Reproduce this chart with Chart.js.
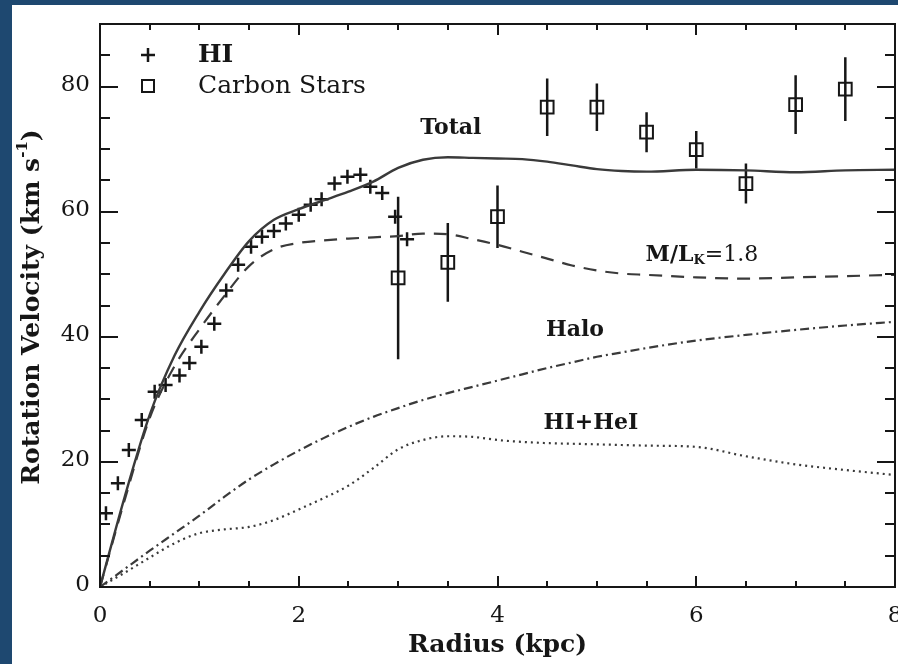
<!DOCTYPE html>
<html>
<head>
<meta charset="utf-8">
<title>Rotation curve</title>
<script src="https://cdn.jsdelivr.net/npm/chart.js@4.4.1/dist/chart.umd.min.js"></script>
<style>
  html, body { margin: 0; padding: 0; background: #fff; }
  #rotation { display: block; }
</style>
</head>
<body>
<canvas id="rotation" width="898" height="664"></canvas>
<script>
// HI rotation velocities (kpc, km/s)
const hiRadius = [0.06, 0.18, 0.29, 0.42, 0.55, 0.66, 0.80, 0.90, 1.02, 1.15, 1.27, 1.39, 1.52,
  1.63, 1.75, 1.87, 2.00, 2.12, 2.23, 2.36, 2.49, 2.62, 2.72, 2.84, 2.97, 3.09];
const hiVelocity = [11.8, 16.6, 21.9, 26.7, 31.2, 32.3, 33.8, 35.8, 38.4, 42.1, 47.4, 51.5, 54.4,
  56.0, 56.9, 58.1, 59.5, 61.1, 62.0, 64.5, 65.6, 65.9, 64.0, 63.0, 59.2, 55.6];

// carbon star velocities with their 1-sigma errors
const starRadius = [3.0, 3.5, 4.0, 4.5, 5.0, 5.5, 6.0, 6.5, 7.0, 7.5];
const starVelocity = [49.4, 51.9, 59.2, 76.7, 76.7, 72.7, 69.9, 64.5, 77.1, 79.6];
const starError = [13.0, 6.3, 5.0, 4.6, 3.8, 3.2, 3.0, 3.2, 4.7, 5.1];

// mass model components, sampled on one radius grid
const modelRadius = [0, 0.25, 0.5, 0.75, 1.0, 1.25, 1.5, 1.75, 2.0, 2.25, 2.5, 2.75, 3.0, 3.25,
  3.5, 3.75, 4.0, 4.25, 4.5, 4.75, 5.0, 5.25, 5.5, 6.0, 6.5, 7.0, 7.5, 8.0];
const totalModel = [0, 14.5, 27.5, 37.0, 44.0, 50.0, 55.3, 58.7, 60.4, 61.8, 63.2, 64.8, 67.0, 68.3,
  68.7, 68.6, 68.5, 68.4, 68.0, 67.4, 66.8, 66.5, 66.4, 66.7, 66.6, 66.3, 66.6, 66.7];
const stellarModel = [0, 14.0, 27.0, 35.3, 41.2, 46.5, 51.3, 54.0, 55.0, 55.4, 55.7, 55.9, 56.1, 56.5,
  56.4, 55.6, 54.7, 53.6, 52.5, 51.4, 50.6, 50.1, 49.9, 49.5, 49.3, 49.5, 49.7, 49.9];
const haloModel = [0, 2.9, 5.8, 8.6, 11.4, 14.4, 17.2, 19.6, 21.8, 23.8, 25.6, 27.2, 28.6, 29.9,
  31.0, 32.0, 33.0, 34.0, 35.0, 35.9, 36.8, 37.5, 38.2, 39.4, 40.3, 41.1, 41.8, 42.4];
const gasModel = [0, 2.3, 4.7, 7.0, 8.6, 9.2, 9.6, 10.7, 12.4, 14.2, 16.2, 19.0, 22.0, 23.5,
  24.1, 24.0, 23.5, 23.2, 23.0, 22.9, 22.8, 22.7, 22.6, 22.4, 20.9, 19.6, 18.7, 17.9];

// axis ticks
const xTicks = [0, 2, 4, 6, 8];
const yTicks = [0, 20, 40, 60, 80];
const xMinorStep = 0.5;
const yMinorStep = 5;

const SERIF = '"DejaVu Serif", "Liberation Serif", serif';
const INK = "#161616";
const LINE = "#3a3a3a";

function pairs(xs, ys) {
  return xs.map((x, i) => ({ x: x, y: ys[i] }));
}

function curve(label, values, dash, width) {
  return {
    label: label,
    data: pairs(modelRadius, values),
    showLine: true,
    borderColor: LINE,
    borderWidth: width,
    borderDash: dash,
    pointRadius: 0,
    cubicInterpolationMode: "monotone",
    fill: false,
  };
}

// white sheet with the dark blue edge on the left and top
const pagePlugin = {
  id: "page",
  beforeDraw(chart) {
    const { ctx, width, height } = chart;
    ctx.save();
    ctx.fillStyle = "#ffffff";
    ctx.fillRect(0, 0, width, height);
    ctx.fillStyle = "#1e4870";
    ctx.fillRect(0, 0, 12, height);
    ctx.fillRect(0, 0, width, 5);
    ctx.restore();
  },
};

const errorBarPlugin = {
  id: "errorBars",
  beforeDatasetsDraw(chart) {
    const { ctx, scales: { x, y } } = chart;
    ctx.save();
    ctx.strokeStyle = INK;
    ctx.lineWidth = 2.5;
    ctx.beginPath();
    starRadius.forEach((r, i) => {
      const px = x.getPixelForValue(r);
      ctx.moveTo(px, y.getPixelForValue(starVelocity[i] + starError[i]));
      ctx.lineTo(px, y.getPixelForValue(starVelocity[i] - starError[i]));
    });
    ctx.stroke();
    ctx.restore();
  },
};

// boxed frame with inward ticks on all four sides, plus labels and titles
const framePlugin = {
  id: "frame",
  afterDatasetsDraw(chart) {
    const { ctx, chartArea: a, scales: { x, y } } = chart;
    ctx.save();
    ctx.strokeStyle = INK;
    ctx.lineWidth = 2;
    ctx.strokeRect(a.left, a.top, a.right - a.left, a.bottom - a.top);

    ctx.beginPath();
    for (let v = x.min; v <= x.max + 1e-9; v += xMinorStep) {
      const px = Math.round(x.getPixelForValue(v));
      const len = xTicks.includes(v) ? 11 : 6;
      ctx.moveTo(px, a.bottom);
      ctx.lineTo(px, a.bottom - len);
      ctx.moveTo(px, a.top);
      ctx.lineTo(px, a.top + len);
    }
    for (let v = y.min; v <= y.max + 1e-9; v += yMinorStep) {
      const py = Math.round(y.getPixelForValue(v));
      const len = yTicks.includes(v) ? 18 : 10;
      ctx.moveTo(a.left, py);
      ctx.lineTo(a.left + len, py);
      ctx.moveTo(a.right, py);
      ctx.lineTo(a.right - len, py);
    }
    ctx.stroke();

    ctx.fillStyle = INK;
    ctx.font = `23px ${SERIF}`;
    ctx.textBaseline = "middle";
    ctx.textAlign = "right";
    yTicks.forEach((v) => {
      ctx.fillText(String(v), a.left - 10, y.getPixelForValue(v) - 2);
    });
    ctx.textAlign = "center";
    xTicks.forEach((v) => {
      ctx.fillText(String(v), x.getPixelForValue(v), a.bottom + 29);
    });

    // axis titles
    ctx.font = `bold 25px ${SERIF}`;
    ctx.fillText("Radius (kpc)", (a.left + a.right) / 2, a.bottom + 58);

    ctx.save();
    ctx.translate(32, 307);
    ctx.rotate(-Math.PI / 2);
    const head = "Rotation Velocity (km s";
    const sup = "-1";
    const tail = ")";
    const bigFont = `bold 25px ${SERIF}`;
    const supFont = `bold 15px ${SERIF}`;
    ctx.font = bigFont;
    const wHead = ctx.measureText(head).width;
    const wTail = ctx.measureText(tail).width;
    ctx.font = supFont;
    const wSup = ctx.measureText(sup).width;
    let cx = -(wHead + wSup + wTail) / 2;
    ctx.textAlign = "left";
    ctx.font = bigFont;
    ctx.fillText(head, cx, 0);
    cx += wHead;
    ctx.font = supFont;
    ctx.fillText(sup, cx, -9);
    cx += wSup;
    ctx.font = bigFont;
    ctx.fillText(tail, cx, 0);
    ctx.restore();

    ctx.restore();
  },
};

// in-plot legend and curve names
const labelPlugin = {
  id: "labels",
  afterDraw(chart) {
    const { ctx, chartArea: a, scales: { x, y } } = chart;
    ctx.save();
    ctx.strokeStyle = INK;
    ctx.fillStyle = INK;
    ctx.textBaseline = "middle";

    const mx = a.left + 48;
    const crossY = a.top + 31;
    const boxY = a.top + 62;
    ctx.lineWidth = 2.5;
    ctx.beginPath();
    ctx.moveTo(mx - 7, crossY);
    ctx.lineTo(mx + 7, crossY);
    ctx.moveTo(mx, crossY - 7);
    ctx.lineTo(mx, crossY + 7);
    ctx.stroke();
    ctx.lineWidth = 2;
    ctx.strokeRect(mx - 6, boxY - 6, 12, 12);

    ctx.textAlign = "left";
    ctx.font = `bold 25px ${SERIF}`;
    ctx.fillText("HI", a.left + 98, crossY);
    ctx.font = `25px ${SERIF}`;
    ctx.fillText("Carbon Stars", a.left + 98, boxY);

    ctx.font = `bold 22px ${SERIF}`;
    ctx.textAlign = "center";
    ctx.fillText("Total", x.getPixelForValue(3.53), y.getPixelForValue(73.4));
    ctx.fillText("Halo", x.getPixelForValue(4.78), y.getPixelForValue(41.1));
    ctx.fillText("HI+HeI", x.getPixelForValue(4.94), y.getPixelForValue(26.2));

    // M/L_K = 1.8
    ctx.textAlign = "left";
    let lx = x.getPixelForValue(5.49);
    const ly = y.getPixelForValue(53.1);
    ctx.font = `bold 22px ${SERIF}`;
    ctx.fillText("M/L", lx, ly);
    lx += ctx.measureText("M/L").width;
    ctx.font = `bold 13px ${SERIF}`;
    ctx.fillText("K", lx, ly + 6);
    lx += ctx.measureText("K").width;
    ctx.font = `22px ${SERIF}`;
    ctx.fillText("=1.8", lx, ly);

    ctx.restore();
  },
};

const chart = new Chart(document.getElementById("rotation"), {
  type: "scatter",
  data: {
    datasets: [
      curve("Total", totalModel, [], 2.4),
      curve("M/L", stellarModel, [13, 9], 2.2),
      curve("Halo", haloModel, [9, 4, 2, 4], 2.2),
      curve("HI+HeI", gasModel, [2, 4], 2.2),
      {
        label: "HI",
        data: pairs(hiRadius, hiVelocity),
        pointStyle: "cross",
        pointRadius: 7,
        borderColor: INK,
        borderWidth: 2.5,
      },
      {
        label: "Carbon Stars",
        data: pairs(starRadius, starVelocity),
        pointStyle: "rect",
        pointRadius: 9,
        borderColor: INK,
        backgroundColor: "rgba(0,0,0,0)",
        borderWidth: 2,
      },
    ],
  },
  options: {
    responsive: false,
    devicePixelRatio: 1,
    animation: false,
    events: [],
    layout: {
      autoPadding: false,
      padding: { left: 100, top: 24, right: 3, bottom: 77 },
    },
    plugins: {
      legend: { display: false },
      tooltip: { enabled: false },
    },
    scales: {
      x: { type: "linear", min: 0, max: 8, display: false },
      y: { type: "linear", min: 0, max: 90, display: false },
    },
  },
  plugins: [pagePlugin, errorBarPlugin, framePlugin, labelPlugin],
});
</script>
</body>
</html>
